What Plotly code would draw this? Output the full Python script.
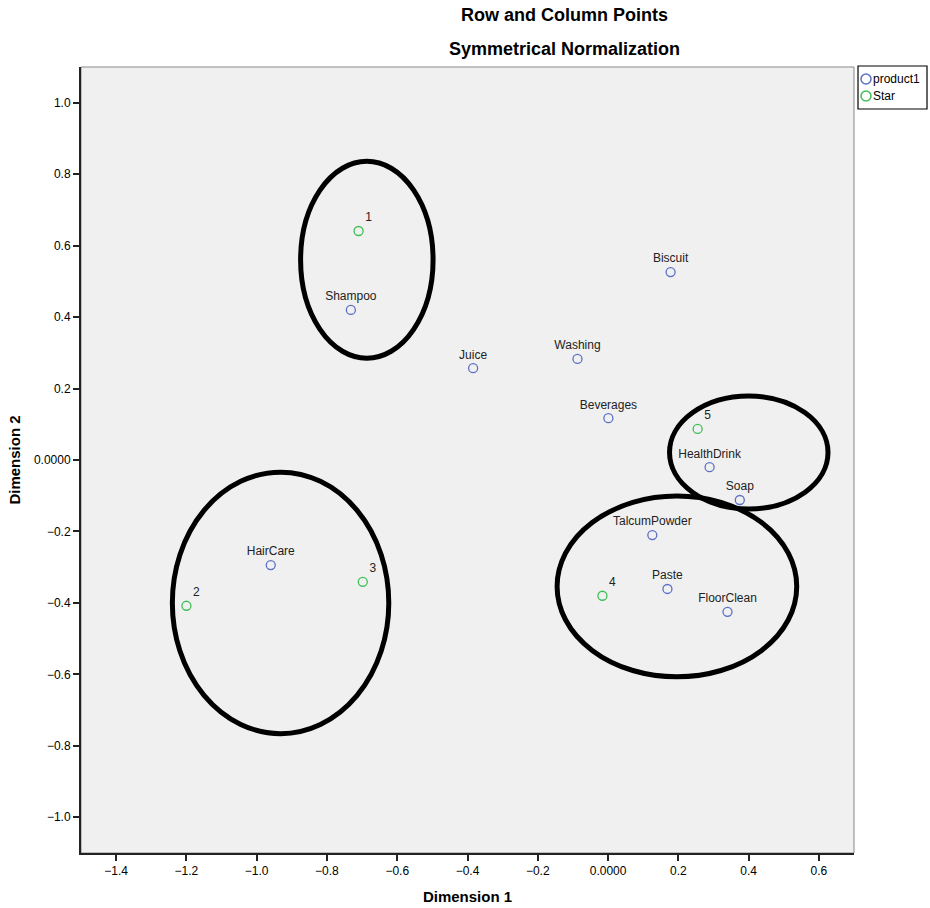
import plotly.graph_objects as go

# ---- data ----
product_names = ["Shampoo", "Juice", "Washing", "Biscuit", "Beverages", "HealthDrink",
                 "Soap", "TalcumPowder", "Paste", "FloorClean", "HairCare"]
product_dim1 = [-0.732, -0.384, -0.087, 0.178, 0.001, 0.289, 0.375, 0.126, 0.169, 0.340, -0.960]
product_dim2 = [0.420, 0.257, 0.283, 0.526, 0.117, -0.020, -0.112, -0.210, -0.361, -0.425, -0.294]

star_names = ["1", "2", "3", "4", "5"]
star_dim1 = [-0.710, -1.200, -0.698, -0.016, 0.255]
star_dim2 = [0.641, -0.408, -0.341, -0.380, 0.087]

x_tickvals = [-1.4, -1.2, -1.0, -0.8, -0.6, -0.4, -0.2, 0.0, 0.2, 0.4, 0.6]
x_ticktext = ["\u22121.4", "\u22121.2", "\u22121.0", "\u22120.8", "\u22120.6", "\u22120.4",
              "\u22120.2", "0.0000", "0.2", "0.4", "0.6"]
y_tickvals = [1.0, 0.8, 0.6, 0.4, 0.2, 0.0, -0.2, -0.4, -0.6, -0.8, -1.0]
y_ticktext = ["1.0", "0.8", "0.6", "0.4", "0.2", "0.0000", "\u22120.2", "\u22120.4",
              "\u22120.6", "\u22120.8", "\u22121.0"]

# hand-drawn cluster ellipses (x0, x1, y0, y1 in data units)
ellipses = [
    (-0.875, -0.498, 0.285, 0.836),
    (-1.240, -0.624, -0.766, -0.034),
    (0.175, 0.626, -0.137, 0.179),
    (-0.145, 0.537, -0.607, -0.101),
]

legend_names = ["product1", "Star"]

FONT = "Liberation Sans, Arial, sans-serif"
BLUE = "#5b6fc8"
GREEN = "#3fbf55"
legend_colors = [BLUE, GREEN]

fig = go.Figure()
fig.add_trace(go.Scatter(
    x=product_dim1, y=product_dim2, text=product_names, name="product1",
    mode="markers+text", textposition="top center",
    textfont=dict(family=FONT, size=12, color="#222"),
    marker=dict(symbol="circle-open", size=9, color=BLUE, line=dict(width=1.3)),
    cliponaxis=False, showlegend=False,
))
fig.add_trace(go.Scatter(
    x=star_dim1, y=star_dim2, text=star_names, name="Star",
    mode="markers+text", textposition="top right",
    textfont=dict(family=FONT, size=12, color="#222"),
    marker=dict(symbol="circle-open", size=9, color=GREEN, line=dict(width=1.3)),
    cliponaxis=False, showlegend=False,
))

shapes = []
for (x0, x1, y0, y1) in ellipses:
    shapes.append(dict(type="circle", xref="x", yref="y", x0=x0, x1=x1, y0=y0, y1=y1,
                       line=dict(color="black", width=5)))
# plot frame
shapes.append(dict(type="rect", xref="paper", yref="paper", x0=0, x1=1, y0=0, y1=1,
                   line=dict(color="#888", width=1), layer="below"))

# custom legend box (anchored to the plot's top-right corner, pixel offsets)
shapes.append(dict(type="rect", xref="paper", yref="paper",
                   xsizemode="pixel", ysizemode="pixel", xanchor=1, yanchor=1,
                   x0=4, x1=73, y0=1, y1=-42,
                   line=dict(color="black", width=1.2), fillcolor="white"))
annotations = [
    dict(text="<b>Row and Column Points</b>", xref="paper", yref="paper",
         x=0.5, y=1, xshift=97, yshift=52, xanchor="center", yanchor="middle",
         showarrow=False, font=dict(family=FONT, size=18)),
    dict(text="<b>Symmetrical Normalization</b>", xref="paper", yref="paper",
         x=0.5, y=1, xshift=97, yshift=18, xanchor="center", yanchor="middle",
         showarrow=False, font=dict(family=FONT, size=18)),
]
for i, (nm, col) in enumerate(zip(legend_names, legend_colors)):
    cy = -12 - 17 * i
    shapes.append(dict(type="circle", xref="paper", yref="paper",
                       xsizemode="pixel", ysizemode="pixel", xanchor=1, yanchor=1,
                       x0=7, x1=17, y0=cy - 5, y1=cy + 5,
                       line=dict(color=col, width=1.5)))
    annotations.append(dict(text=nm, xref="paper", yref="paper", x=1, y=1,
                            xshift=17, yshift=cy, xanchor="left", yanchor="middle",
                            showarrow=False, font=dict(family=FONT, size=12, color="black")))

fig.update_layout(
    width=930, height=908,
    margin=dict(l=81, r=76, t=67, b=55, autoexpand=False),
    paper_bgcolor="white", plot_bgcolor="#f0f0f0",
    font=dict(family=FONT, size=12, color="black"),
    shapes=shapes,
    annotations=annotations,
    showlegend=False,
)
fig.update_xaxes(
    range=[-1.5, 0.7], tickvals=x_tickvals, ticktext=x_ticktext, automargin=False,
    showgrid=False, zeroline=False, showline=True, linecolor="#222", linewidth=2,
    ticks="outside", ticklen=6, tickcolor="#222", tickwidth=1.5,
    tickfont=dict(family=FONT, size=12),
    title=dict(text="<b>Dimension 1</b>", font=dict(family=FONT, size=15), standoff=14),
)
fig.update_yaxes(
    range=[-1.1, 1.1], tickvals=y_tickvals, ticktext=y_ticktext, automargin=False,
    showgrid=False, zeroline=False, showline=True, linecolor="#222", linewidth=2,
    ticks="outside", ticklen=6, tickcolor="#222", tickwidth=1.5,
    tickfont=dict(family=FONT, size=12),
    title=dict(text="<b>Dimension 2</b>", font=dict(family=FONT, size=15), standoff=10),
)

fig.write_html("out.html", config={"displayModeBar": False},
               post_script="document.body.style.margin='0';document.body.style.overflow='hidden';")
